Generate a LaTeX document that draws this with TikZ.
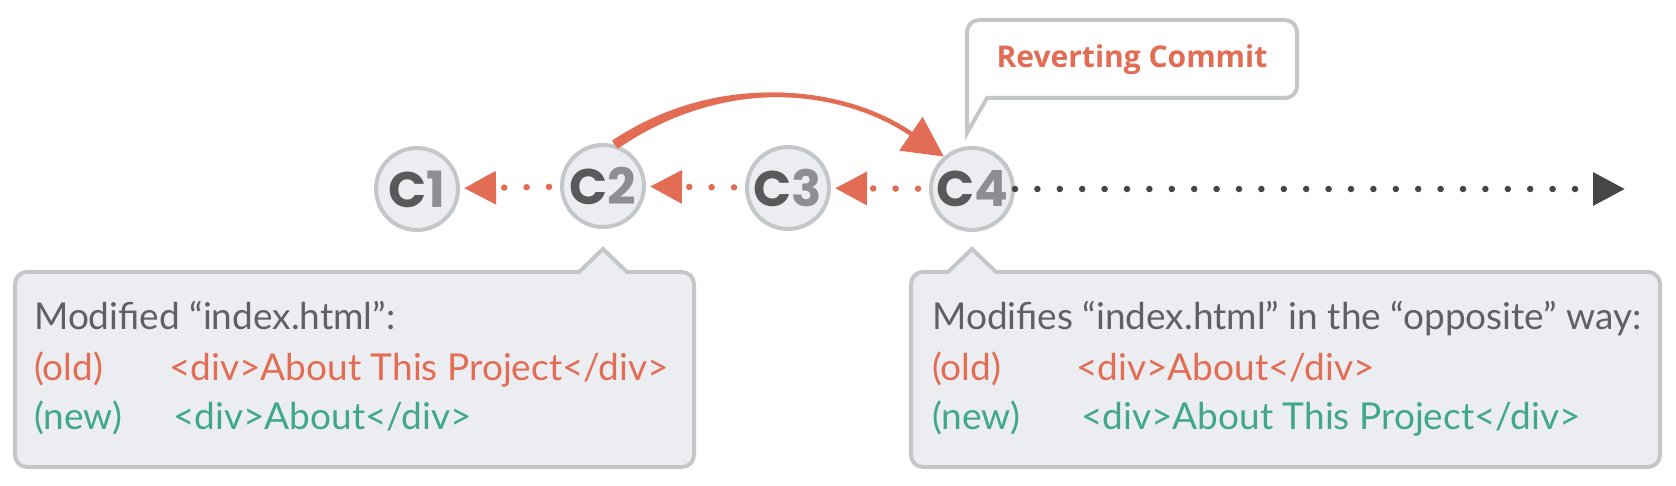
\documentclass[tikz,border=0pt]{standalone}
\usepackage{fontspec}
\setmainfont{Lato}
\newfontfamily\titlefont{Open Sans}
\newfontfamily\commitfont{Poppins}
\usetikzlibrary{arrows.meta}
\definecolor{revred}{HTML}{E26C54}
\definecolor{revgreen}{HTML}{40A888}
\definecolor{txtgray}{HTML}{5F6062}
\definecolor{nodefill}{HTML}{ECEDF1}
\definecolor{ringgray}{HTML}{C3C7CA}
\definecolor{cdark}{HTML}{58595B}
\definecolor{cdigit}{HTML}{8C8E91}
\definecolor{dotdark}{HTML}{464646}

\begin{document}
\begin{tikzpicture}[x=1pt,y=1pt,
  commit/.style={circle, draw=ringgray, line width=4pt, fill=nodefill, minimum size=82pt, inner sep=0pt, text=cdigit, font=\commitfont\bfseries\fontsize{50}{50}\selectfont},
  backlink/.style={draw=revred, line width=6.5pt, line cap=round, dash pattern=on 0pt off 22.4pt, shorten <=11pt, shorten >=4pt, -{Triangle[length=32pt,width=32pt]}},
  fwdlink/.style={draw=dotdark, line width=6.5pt, line cap=round, dash pattern=on 0pt off 22.4pt, -{Triangle[length=32pt,width=32pt]}},
  revertarc/.style={draw=revred, line width=4.5pt, -{Triangle[length=40pt,width=40pt]}},
  notebox/.style={draw=ringgray, line width=4pt, fill=nodefill},
  tagbox/.style={draw=ringgray, line width=4pt, fill=white},
  txt/.style={anchor=base west, inner sep=0pt, font=\fontsize{37}{44}\selectfont}]
\useasboundingbox (0,0) rectangle (1676,-486);

\draw[tagbox] (967,-133) -- (967,-32) arc[start angle=180,end angle=90,radius=12] -- (1285,-20) arc[start angle=90,end angle=0,radius=12] -- (1297,-86) arc[start angle=0,end angle=-90,radius=12] -- (987,-98) -- cycle;
\node[anchor=base, inner sep=0pt, text=revred, font=\titlefont\bfseries\fontsize{30}{36}\selectfont] (tag) at (1132,-68) {Reverting Commit};

\draw[notebox] (27,-272) -- (579,-272) -- (603,-249) -- (627,-272) -- (682,-272) arc[start angle=90,end angle=0,radius=12] -- (694,-455) arc[start angle=0,end angle=-90,radius=12] -- (27,-467) arc[start angle=270,end angle=180,radius=12] -- (15,-284) arc[start angle=180,end angle=90,radius=12] -- cycle;
\draw[notebox] (923,-272) -- (948,-272) -- (972,-249) -- (996,-272) -- (1648,-272) arc[start angle=90,end angle=0,radius=12] -- (1660,-455) arc[start angle=0,end angle=-90,radius=12] -- (923,-467) arc[start angle=270,end angle=180,radius=12] -- (911,-284) arc[start angle=180,end angle=90,radius=12] -- cycle;

\node[commit] (c1) at (417,-189) {\textcolor{cdark}{C}1};
\node[commit] (c2) at (603,-186) {\textcolor{cdark}{C}2};
\node[commit] (c3) at (788,-188) {\textcolor{cdark}{C}3};
\node[commit] (c4) at (972,-189) {\textcolor{cdark}{C}4};
\coordinate (ahead) at (1625,-189);

\draw[backlink] (c2) -- (c1);
\draw[backlink] (c3) -- (c2);
\draw[backlink] (c4) -- (c3);
\draw[fwdlink] (c4) -- (ahead);
% thick start of the arc, thinning towards C4
\fill[revred] (612.1,-140.6) .. controls (719.8,-68.7) and (845.9,-86.8) .. (910.9,-133.7) .. controls (844.1,-89.2) and (724.2,-75.3) .. (617.7,-148.8) -- cycle;
\draw[revertarc] (c2.74) .. controls (722,-72) and (845,-88) .. (c4.131);

\node[txt, text=txtgray] (lhead) at (34,-330) {Modified “index.html”:};
\node[txt, text=revred] (lold) at (34,-380) {(old)};
\node[txt, text=revred] (loldcode) at (169,-380) {<div>About This Project</div>};
\node[txt, text=revgreen] (lnew) at (34,-429) {(new)};
\node[txt, text=revgreen] (lnewcode) at (173,-429) {<div>About</div>};

\node[txt, text=txtgray] (rhead) at (932,-330) {Modifies “index.html” in the “opposite” way:};
\node[txt, text=revred] (rold) at (932,-380) {(old)};
\node[txt, text=revred] (roldcode) at (1076,-380) {<div>About</div>};
\node[txt, text=revgreen] (rnew) at (932,-429) {(new)};
\node[txt, text=revgreen] (rnewcode) at (1081,-429) {<div>About This Project</div>};
\end{tikzpicture}
\end{document}
